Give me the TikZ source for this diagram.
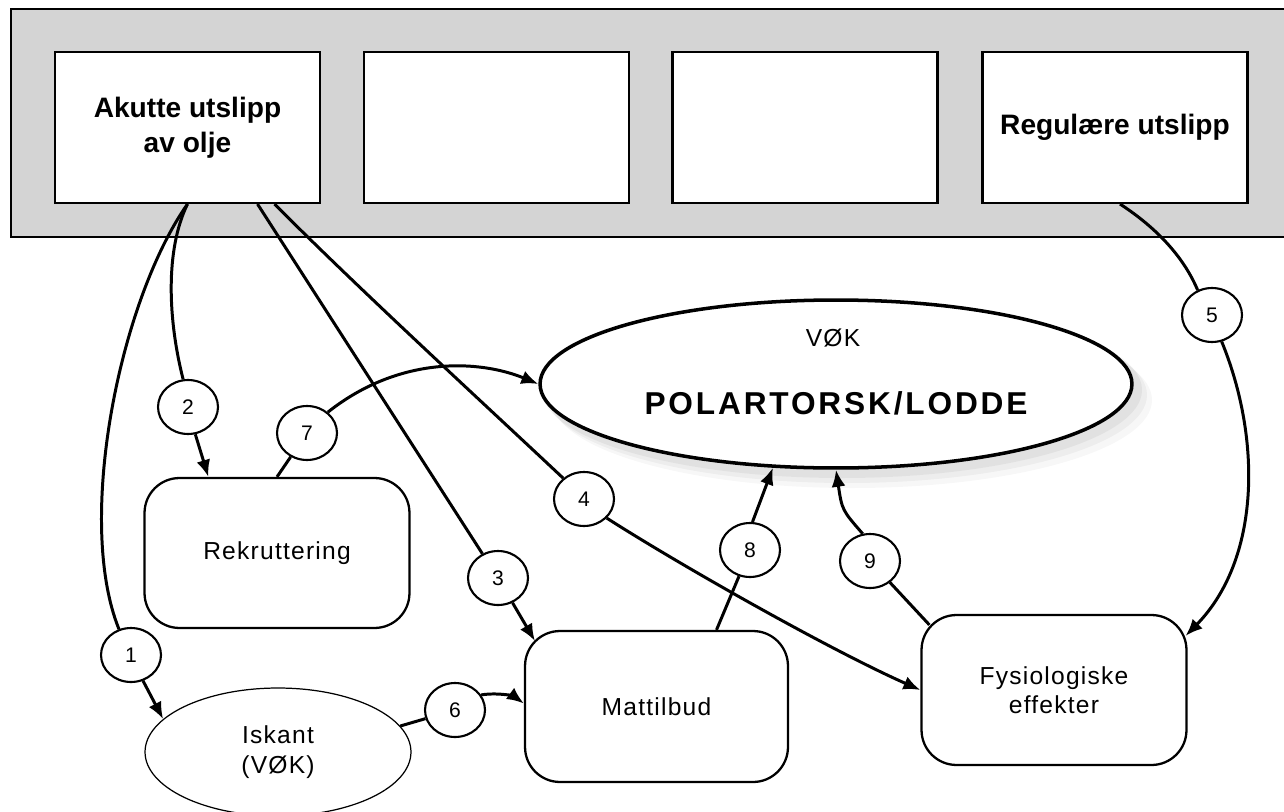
\documentclass[tikz,border=0pt]{standalone}
\usepackage{fontspec}
\setmainfont{Liberation Sans}
\newfontfamily\lblfont[LetterSpace=5]{Liberation Sans}
\newfontfamily\titlefont[LetterSpace=9]{Liberation Sans}
\usetikzlibrary{shapes.geometric,arrows.meta,calc}

\tikzset{
  band/.style={draw=black, line width=0.9pt, fill=black!17},
  srcbox/.style={draw, fill=white, line width=1.2pt, minimum width=5.3cm,
    minimum height=3.02cm, inner sep=0, align=center,
    font=\fontsize{16pt}{20pt}\selectfont\bfseries},
  procbox/.style={draw, fill=white, rounded corners=0.7cm, line width=1.3pt,
    minimum width=5.3cm, minimum height=3cm, inner sep=0, align=center,
    font=\lblfont\fontsize{14pt}{16.5pt}\selectfont},
  numnode/.style={draw, ellipse, fill=white, line width=1.2pt,
    minimum width=1.2cm, minimum height=1.08cm, inner sep=0,
    font=\fontsize{12pt}{14pt}\selectfont},
  conn/.style={line width=1.7pt},
  arr/.style={conn, -{Latex[length=0.34cm,width=0.28cm]}},
  lbl/.style={font=\lblfont\fontsize{14pt}{17pt}\selectfont, align=center, inner sep=0}
}

\begin{document}
\begin{tikzpicture}[x=0.02cm, y=-0.02cm]
\useasboundingbox (0,0) rectangle (1284,811);

% shaded source band with its four boxes
\path[band] (11,9) rectangle (1300,237);
\node[srcbox] (a1) at (187.5,127.5) {Akutte utslipp\\av olje};
\node[srcbox] (a2) at (496.5,127.5) {};
\node[srcbox] (a3) at (805,127.5) {};
\node[srcbox] (a4) at (1115,127.5) {Regulære utslipp};

% soft halo beneath the main ellipse
\foreach \s/\o in {16/0.03, 11/0.04, 6/0.05}
  \fill[black, opacity=\o] (836+\s,384+\s) ellipse [x radius=300, y radius=88];

% main ellipse
\node[draw, ellipse, fill=white, line width=2pt, minimum width=11.84cm,
  minimum height=3.36cm, inner sep=0] (pol) at (836,384) {};
\node[lbl] (polsub) at (833,338) {VØK};
\node[inner sep=0, font=\titlefont\fontsize{18pt}{20pt}\selectfont\bfseries]
  (poltitle) at (836,403) {POLARTORSK/LODDE};

% process boxes
\node[procbox] (rek) at (277,553) {Rekruttering};
\node[procbox, minimum width=5.26cm, minimum height=3.02cm] (mat) at (656.5,706.5) {Mattilbud};
\node[procbox] (fys) at (1054,690) {Fysiologiske\\effekter};

% ice edge
\node[draw, ellipse, fill=white, line width=0.7pt, minimum width=5.32cm,
  minimum height=2.56cm, inner sep=0, align=center,
  font=\lblfont\fontsize{14pt}{17pt}\selectfont] (isk) at (278,752) {Iskant\\(VØK)};

% numbered pathway markers
\node[numnode] (c1) at (131,655) {1};
\node[numnode] (c2) at (188,407) {2};
\node[numnode] (c3) at (498,578) {3};
\node[numnode] (c4) at (584,499) {4};
\node[numnode] (c5) at (1212,315) {5};
\node[numnode] (c6) at (455,710) {6};
\node[numnode] (c7) at (307,433) {7};
\node[numnode] (c8) at (750,550) {8};
\node[numnode] (c9) at (870,561) {9};

% pathway 1
\draw[conn] (a1.south) .. controls (120,300) and (75,520) .. (c1.115);
\draw[arr] (c1.-65) -- (isk.164);
% pathway 2
\draw[conn] (a1.south) .. controls (165,250) and (168,320) .. (c2.100);
\draw[arr] (c2.-75) -- ($(rek.north west)+(65,0)$);
% pathway 3
\draw[conn] ($(a1.south)+(70,0)$) -- (c3);
\draw[arr] (c3) -- ($(mat.north west)+(11,11)$);
% pathway 4
\draw[conn] ($(a1.south)+(87,0)$) .. controls (360,290) and (480,400) .. (c4.135);
\draw[arr] (c4.-40) .. controls (680,565) and (830,650) .. (fys.west);
% pathway 5
\draw[conn] ($(a4.south)+(5,0)$) .. controls (1160,230) and (1185,260) .. (c5.120);
\draw[arr] (c5.-70) .. controls (1262,440) and (1260,560) .. ($(fys.north east)+(-2,22)$);
% pathway 6
\draw[conn] (isk.12) -- (c6);
\draw[arr] (c6.30) .. controls (500,692) and (515,697) .. ($(mat.west)+(0,-3)$);
% pathway 7
\draw[conn] (rek.north) -- (c7);
\draw[arr] (c7.45) .. controls (400,355) and (480,360) .. (pol.west);
% pathway 8
\draw[conn] ($(mat.north)+(60,0)$) -- (c8);
\draw[arr] (c8.85) -- (pol.-127);
% pathway 9
\draw[conn] ($(fys.north west)+(9,11)$) -- (c9);
\draw[arr] (c9.105) .. controls (842,510) .. (pol.south);
\end{tikzpicture}
\end{document}
